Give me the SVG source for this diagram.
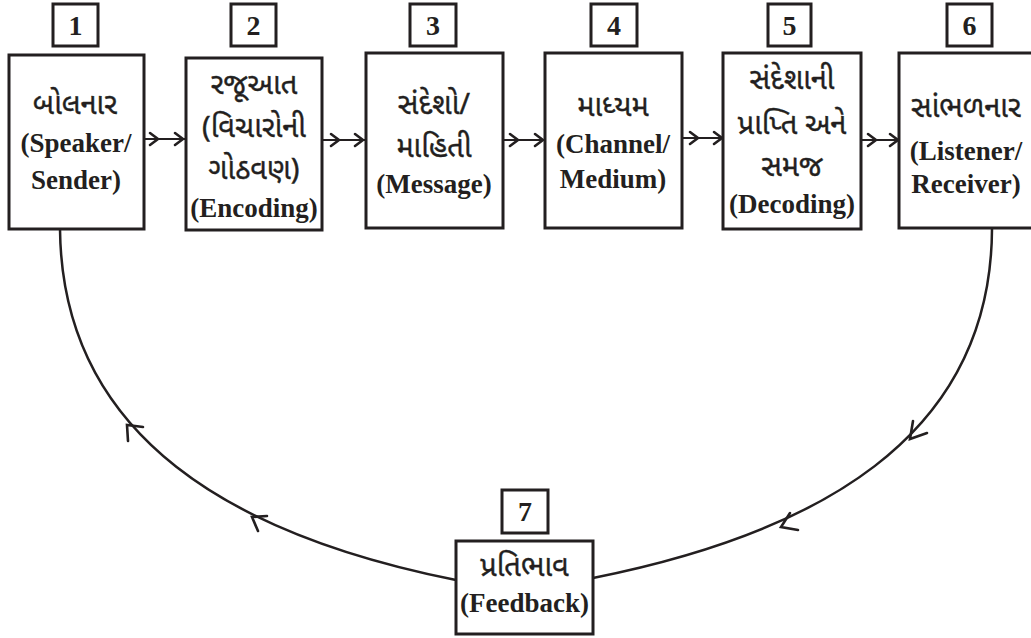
<svg xmlns="http://www.w3.org/2000/svg" width="1031" height="638" viewBox="0 0 1031 638">
  <style>
    .box { fill: #fff; stroke: #231f20; stroke-width: 3; }
    .num { fill: #fff; stroke: #231f20; stroke-width: 3; }
    .en { font-family: 'Liberation Serif', 'DejaVu Serif', 'Noto Serif', serif; font-weight: 700; font-size: 27px; fill: #231f20; text-anchor: middle; }
    .gu { font-family: 'Noto Sans Gujarati', 'Noto Serif Gujarati', 'Lohit Gujarati', sans-serif; font-size: 29px; fill: #231f20; text-anchor: middle; stroke: #231f20; stroke-width: 0.4; }
    .n { font-family: 'Liberation Serif', 'DejaVu Serif', serif; font-weight: 700; font-size: 28px; fill: #231f20; text-anchor: middle; }
    .line { fill: none; stroke: #231f20; stroke-width: 2.5; }
    .flow { fill: none; stroke: #231f20; stroke-width: 2; }
    .head { fill: none; stroke: #231f20; stroke-width: 2.6; stroke-linecap: round; stroke-linejoin: miter; }
  </style>

  <!-- Connectors: forward chain and feedback loop -->
  <g id="connectors">
    <!-- 1 -> 2 -->
    <path class="flow" d="M144 139 H185"/>
    <path class="head" d="M150 133 L158 139 L150 145 M175 133 L183 139 L175 145"/>
    <!-- 2 -> 3 -->
    <path class="flow" d="M322 140 H366"/>
    <path class="head" d="M331 134 L339 140 L331 146 M355 134 L363 140 L355 146"/>
    <!-- 3 -> 4 -->
    <path class="flow" d="M503 140 H545"/>
    <path class="head" d="M510 134 L518 140 L510 146 M535 134 L543 140 L535 146"/>
    <!-- 4 -> 5 -->
    <path class="flow" d="M682 138 H723"/>
    <path class="head" d="M690 132 L698 138 L690 144 M714 132 L722 138 L714 144"/>
    <!-- 5 -> 6 -->
    <path class="flow" d="M861 140 H899"/>
    <path class="head" d="M868 134 L876 140 L868 146 M890 134 L898 140 L890 146"/>

    <!-- 6 -> 7 (feedback down the right side) -->
    <path class="line" d="M992 229 C991 440 813 534 593 578"/>
    <path class="head" d="M913 421 L910 439 L927 433"/>
    <path class="head" d="M790 513 L781 527 L798 530"/>

    <!-- 7 -> 1 (feedback up the left side) -->
    <path class="line" d="M456 580 C236 536 62 439 60 229"/>
    <path class="head" d="M128 441 L127 425 L143 427"/>
    <path class="head" d="M258 531 L252 517 L267 516"/>
  </g>

  <!-- Step numbers -->
  <g id="num-1"><rect class="num" x="53" y="4" width="45" height="42"/><text class="n" x="75.5" y="35">1</text></g>
  <g id="num-2"><rect class="num" x="231" y="4" width="45" height="42"/><text class="n" x="253.5" y="35">2</text></g>
  <g id="num-3"><rect class="num" x="410" y="4" width="46" height="42"/><text class="n" x="433" y="35">3</text></g>
  <g id="num-4"><rect class="num" x="591" y="4" width="46" height="42"/><text class="n" x="614" y="35">4</text></g>
  <g id="num-5"><rect class="num" x="768" y="4" width="43" height="42"/><text class="n" x="789.5" y="35">5</text></g>
  <g id="num-6"><rect class="num" x="947" y="4" width="45" height="42"/><text class="n" x="969.5" y="35">6</text></g>
  <g id="num-7"><rect class="num" x="502" y="490" width="46" height="43"/><text class="n" x="525" y="521">7</text></g>

  <!-- Stages -->
  <g id="node-speaker">
    <rect class="box" x="9" y="55" width="135" height="174"/>
    <text class="gu" x="75" y="114">બોલનાર</text>
    <text class="en" x="76" y="152">(Speaker/</text>
    <text class="en" x="76" y="189">Sender)</text>
  </g>

  <g id="node-encoding">
    <rect class="box" x="186" y="58" width="136" height="172"/>
    <text class="gu" x="254" y="94">રજૂઆત</text>
    <text class="gu" x="254" y="137">(વિચારોની</text>
    <text class="gu" x="254" y="179">ગોઠવણ)</text>
    <text class="en" x="254" y="217">(Encoding)</text>
  </g>

  <g id="node-message">
    <rect class="box" x="366" y="53" width="137" height="175"/>
    <text class="gu" x="434" y="114">સંદેશો/</text>
    <text class="gu" x="434" y="157">માહિતી</text>
    <text class="en" x="434" y="193">(Message)</text>
  </g>

  <g id="node-channel">
    <rect class="box" x="545" y="53" width="137" height="175"/>
    <text class="gu" x="613" y="116">માધ્યમ</text>
    <text class="en" x="613" y="153">(Channel/</text>
    <text class="en" x="613" y="188">Medium)</text>
  </g>

  <g id="node-decoding">
    <rect class="box" x="723" y="53" width="138" height="176"/>
    <text class="gu" x="792" y="89">સંદેશાની</text>
    <text class="gu" x="792" y="134">પ્રાપ્તિ અને</text>
    <text class="gu" x="792" y="176">સમજ</text>
    <text class="en" x="792" y="213">(Decoding)</text>
  </g>

  <g id="node-listener">
    <rect class="box" x="899" y="53" width="140" height="175"/>
    <text class="gu" x="966" y="117">સાંભળનાર</text>
    <text class="en" x="966" y="160">(Listener/</text>
    <text class="en" x="966" y="193">Receiver)</text>
  </g>

  <g id="node-feedback">
    <rect class="box" x="456" y="541" width="137" height="93"/>
    <text class="gu" x="524.5" y="576">પ્રતિભાવ</text>
    <text class="en" x="524.5" y="612">(Feedback)</text>
  </g>
</svg>
